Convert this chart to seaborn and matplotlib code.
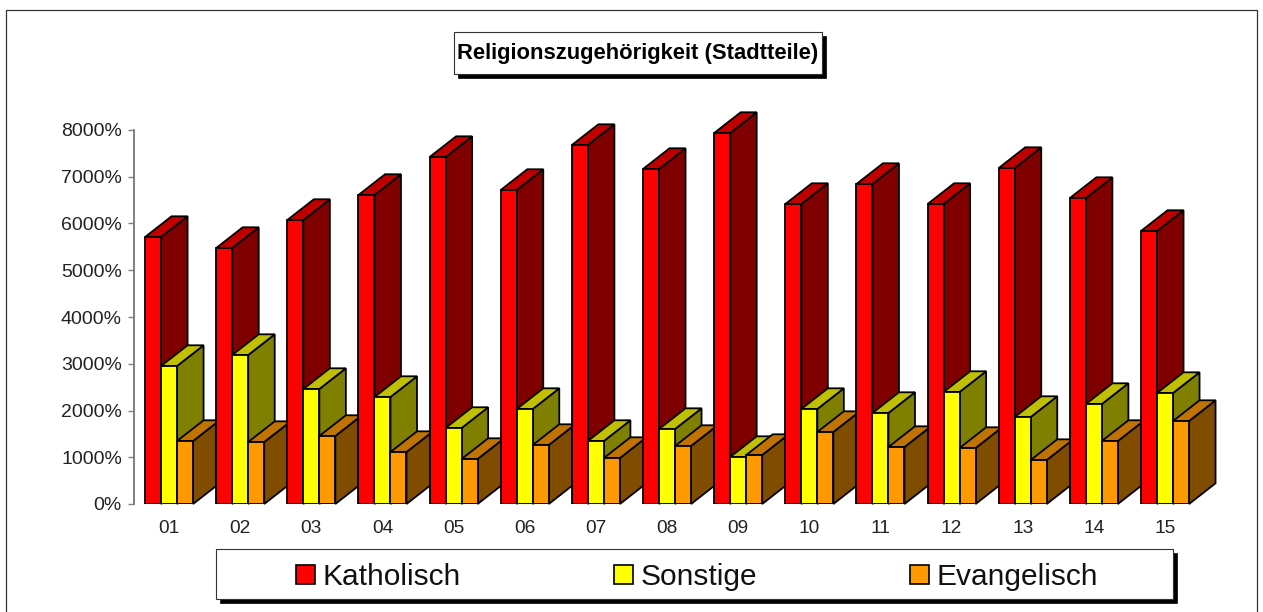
import matplotlib
matplotlib.use("Agg")
import matplotlib.pyplot as plt
from matplotlib.patches import Polygon, Rectangle
import pandas as pd
import seaborn as sns

stadtteile = ["01", "02", "03", "04", "05", "06", "07", "08", "09", "10", "11", "12", "13", "14", "15"]
katholisch = [5711, 5476, 6075, 6610, 7422, 6717, 7679, 7166, 7936, 6417, 6845, 6417, 7187, 6545, 5840]
sonstige = [2952, 3187, 2460, 2289, 1626, 2032, 1348, 1604, 1005, 2032, 1947, 2396, 1861, 2139, 2374]
evangelisch = [1348, 1326, 1455, 1112, 963, 1262, 984, 1241, 1048, 1540, 1219, 1198, 941, 1348, 1775]
gruppen = ["Katholisch", "Sonstige", "Evangelisch"]
y_ticks = [0, 1000, 2000, 3000, 4000, 5000, 6000, 7000, 8000]

farben = ["#FF0000", "#FFFF00", "#FF9900"]
seiten = ["#800000", "#808000", "#804C00"]
deckel = ["#C00000", "#C0C000", "#C07300"]

W, H = 1263, 612
KANTE = 1.3

sns.set_style("white")
plt.rcParams["font.family"] = ["Liberation Sans", "DejaVu Sans"]

df = pd.DataFrame({
    "stadtteil": stadtteile * 3,
    "wert": katholisch + sonstige + evangelisch,
    "gruppe": [g for g in gruppen for _ in stadtteile],
})

fig = plt.figure(figsize=(W / 100, H / 100), dpi=100, facecolor="white")
ax = fig.add_axes([133.5 / W, (H - 504) / H, (1200.6 - 133.5) / W, 374 / H])

sns.barplot(data=df, x="stadtteil", y="wert", hue="gruppe", hue_order=gruppen, palette=farben,
            width=0.675, gap=0, saturation=1, edgecolor="black", linewidth=KANTE, legend=False, ax=ax)

ax.set_xlim(-0.5, 14.5)
ax.set_ylim(0, 8000)

# Tiefe der Saeulen in Pixeln umgerechnet
tiefe_x = 26.5 / 71.14
tiefe_y = 20.7 / 374 * 8000

for j, container in enumerate(ax.containers):
    for i, bar in enumerate(container):
        z = 3 + i * 10 + j * 3
        bar.set_zorder(z + 2)
        x0, x1 = bar.get_x(), bar.get_x() + bar.get_width()
        y1 = bar.get_height()
        seite = [(x1, 0), (x1 + tiefe_x, tiefe_y), (x1 + tiefe_x, y1 + tiefe_y), (x1, y1)]
        oben = [(x0, y1), (x0 + tiefe_x, y1 + tiefe_y), (x1 + tiefe_x, y1 + tiefe_y), (x1, y1)]
        ax.add_patch(Polygon(seite, facecolor=seiten[j], edgecolor="black", linewidth=KANTE, zorder=z, clip_on=False))
        ax.add_patch(Polygon(oben, facecolor=deckel[j], edgecolor="black", linewidth=KANTE, zorder=z + 1, clip_on=False))

ax.set_xlabel("")
ax.set_ylabel("")
ax.set_yticks(y_ticks)
ax.set_yticklabels([f"{v}%" for v in y_ticks])
ax.tick_params(axis="y", length=4.3, width=1.0, color="#808080", pad=4, labelsize=14, labelcolor="#222222", left=True)
ax.tick_params(axis="x", length=0, pad=11.5, labelsize=13.8, labelcolor="#222222")
for s in ["top", "right", "bottom"]:
    ax.spines[s].set_visible(False)
ax.spines["left"].set_color("#808080")
ax.spines["left"].set_linewidth(1.4)


def kasten(x0, y0, x1, y1, schatten=4):
    # Pixel von oben links in Figurkoordinaten
    fig.add_artist(Rectangle(((x0 + schatten) / W, (H - y1 - schatten) / H), (x1 - x0) / W, (y1 - y0) / H,
                             transform=fig.transFigure, facecolor="black", edgecolor="black", linewidth=0.5))
    fig.add_artist(Rectangle((x0 / W, (H - y1) / H), (x1 - x0) / W, (y1 - y0) / H,
                             transform=fig.transFigure, facecolor="white", edgecolor="#333333", linewidth=0.8))


# Aeusserer Rahmen, unten abgeschnitten
fig.add_artist(Rectangle((6 / W, -10 / H), 1251 / W, (H - 10 + 10) / H, transform=fig.transFigure,
                         facecolor="none", edgecolor="#333333", linewidth=0.9))

kasten(454, 32, 822, 73.5)
fig.text(638 / W, (H - 53.5) / H, "Religionszugehörigkeit (Stadtteile)", ha="center", va="center",
         fontsize=15.8, fontweight="bold", color="black")

kasten(216, 549, 1173, 599)
griffe = [Rectangle((0, 0), 1, 1, facecolor=c, edgecolor="black", linewidth=1.2) for c in farben]
fig.legend(griffe, gruppen, loc="center left", bbox_to_anchor=(296 / W, (H - 577) / H), ncol=3, frameon=False,
           fontsize=21.5, borderpad=0, borderaxespad=0, handlelength=0.62, handleheight=0.62,
           handletextpad=0.26, columnspacing=5.14, labelcolor="#111111")

fig.savefig("out.png", dpi=100, facecolor="white")
